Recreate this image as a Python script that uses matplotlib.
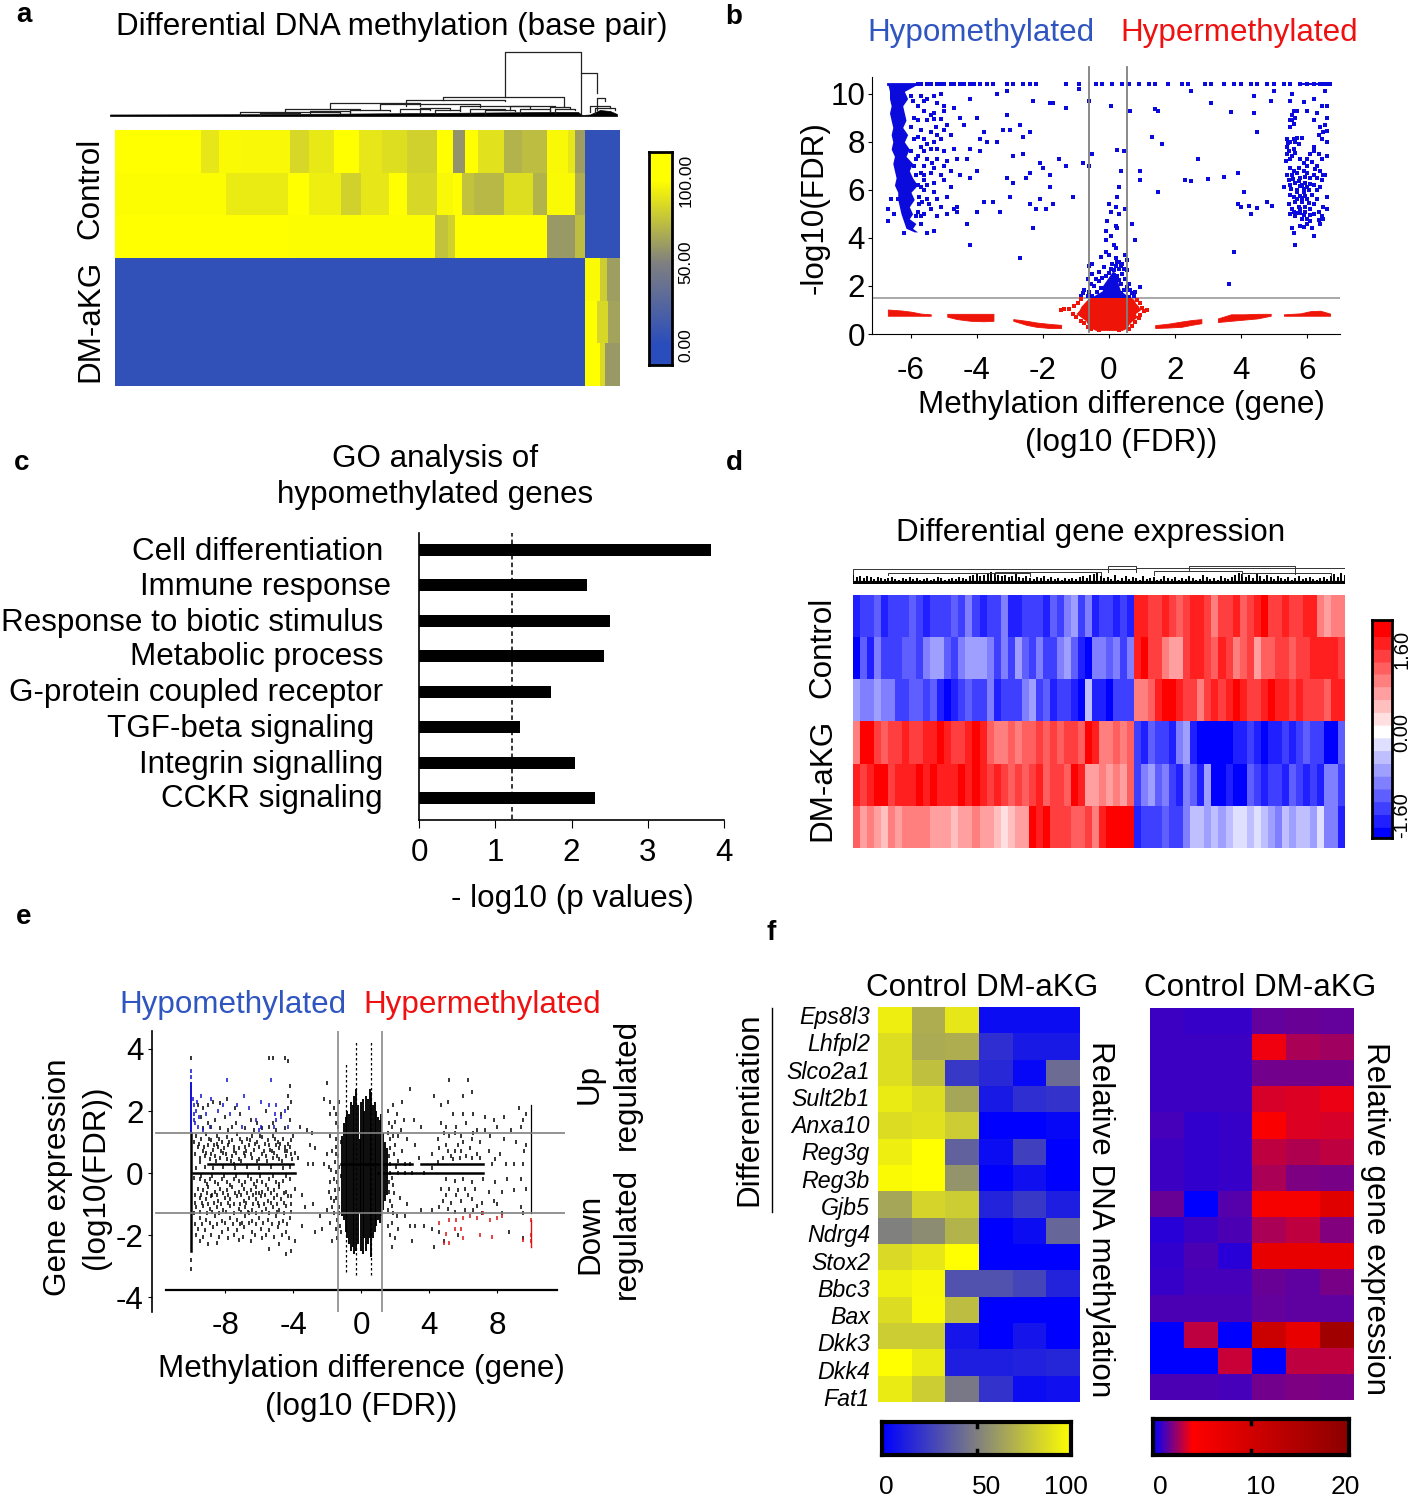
import matplotlib
matplotlib.use('AGG')
import matplotlib.pyplot as plt
import numpy as np
from matplotlib.colors import LinearSegmentedColormap

plt.rcParams['font.family'] = ['Liberation Sans', 'DejaVu Sans']
plt.rcParams['axes.unicode_minus'] = False

W, H = 1417, 1500
FONT = 22.6

# panel a: per row (breaks along the clustered sites, % methylation of each block)
a_edges = [
    [0, 86, 104, 127, 175, 194, 219, 244, 267, 292, 322, 338, 350, 363, 389, 407, 432, 453, 460, 470, 505],
    [0, 111, 173, 194, 226, 246, 274, 292, 322, 338, 347, 359, 389, 418, 432, 460, 470, 505],
    [0, 175, 320, 333, 340, 432, 460, 470, 505],
    [0, 470, 485, 492, 505],
    [0, 470, 482, 493, 505],
    [0, 470, 485, 490, 505],
]
a_values = [
    [100, 90, 98, 97, 84, 91, 100, 90, 87, 82, 100, 58, 100, 88, 70, 74, 97, 90, 62, 4],
    [99, 92, 100, 93, 82, 90, 100, 84, 97, 100, 76, 72, 87, 70, 98, 68, 4],
    [100, 99, 76, 82, 100, 60, 74, 4],
    [4, 98, 80, 62],
    [4, 100, 84, 64],
    [4, 100, 85, 60],
]
a_cbar_ticks = [0, 50, 100]
a_cbar_labels = ['0.00', '50.00', '100.00']
# dendrogram of panel a: x left, x right, height left, height right, height top
a_links = [
    (395, 471, 19, 43, 64), (471, 487, 2, 23, 43), (333, 454, 16, 10, 19), (296, 395, 10, 15, 16),
    (220, 310, 7, 10, 13), (270, 370, 7, 9, 12), (175, 250, 3, 6, 7), (350, 420, 6, 8, 10),
    (130, 230, 1, 3, 4), (400, 445, 6, 9, 10), (487, 495, 6, 15, 18), (440, 460, 4, 8, 9),
    (310, 340, 3, 6, 8), (360, 395, 3, 6, 7), (240, 280, 3, 5, 6), (290, 320, 4, 6, 7),
    (325, 350, 3, 5, 6), (375, 405, 3, 5, 6), (410, 440, 3, 5, 7), (445, 465, 3, 6, 7),
    (480, 500, 4, 8, 10), (485, 505, 3, 6, 8), (200, 240, 2, 4, 5), (150, 190, 1, 2, 3),
]
a_base_x = [0, 150, 250, 320, 380, 440, 468, 472, 480, 490, 500, 507]
a_base_top = [1.5, 1.8, 2.5, 3, 3.5, 4, 4, 1, 1.5, 6, 5, 2]

# panel b
b_ticks_x = [-6, -4, -2, 0, 2, 4, 6]
b_ticks_y = [0, 2, 4, 6, 8, 10]
b_top_x = [-5.8, -5.7, -5.5, -5.4, -5.2, -5.1, -5.0, -4.8, -4.7, -4.5, -4.4, -4.2, -4.1, -3.9, -3.7, -3.5,
           -3.1, -2.9, -2.6, -2.4, -2.2, -1.3, -0.9, -0.4, -0.2, 0.1, 0.4, 0.6, 0.9, 1.2, 1.4, 1.8, 2.2, 2.4,
           2.9, 3.1, 3.5, 3.8, 4.0, 4.3, 4.5, 4.8, 5.0, 5.3, 5.5, 5.8, 6.0, 6.2, 6.4, 6.5, 6.6, 6.7]
b_wedge_y = [4.25, 4.4, 4.6, 4.8, 5.0, 5.3, 5.6, 5.9, 6.2, 6.5, 6.8, 7.1, 7.4, 7.7, 8.0, 8.3, 8.6, 8.9, 9.2, 9.5, 9.8, 10.1, 10.4]
b_wedge_left = [-5.9, -6.15, -6.2, -6.25, -6.3, -6.35, -6.4, -6.4, -6.5, -6.45, -6.5, -6.55, -6.5, -6.6, -6.55, -6.6, -6.55, -6.6, -6.65, -6.6, -6.65, -6.65, -6.7]
b_wedge_right = [-5.8, -5.95, -5.85, -6.05, -5.95, -6.05, -5.9, -6.0, -5.8, -5.95, -6.05, -5.95, -6.15, -6.05, -6.2, -6.1, -6.25, -6.15, -6.2, -6.25, -6.1, -6.2, -5.8]
b_left_pts = [
    (-5.7, 9.9), (-5.5, 9.8), (-5.3, 9.9), (-5.1, 10.0), (-5.2, 9.6), (-5.0, 9.5), (-5.6, 9.3), (-5.3, 9.2),
    (-5.0, 9.3), (-4.7, 9.4), (-5.8, 8.9), (-5.5, 8.9), (-5.3, 8.95), (-5.1, 8.95), (-4.9, 8.7), (-5.7, 8.5),
    (-5.4, 8.4), (-5.0, 8.5), (-4.8, 8.3), (-5.6, 8.1), (-5.3, 8.0), (-5.1, 8.1), (-5.7, 7.8), (-5.4, 7.7),
    (-5.0, 7.6), (-4.7, 7.7), (-5.8, 7.4), (-5.5, 7.3), (-5.2, 7.3), (-4.9, 7.2), (-5.6, 7.0), (-5.3, 6.9),
    (-5.0, 7.0), (-5.7, 6.7), (-5.4, 6.7), (-5.1, 6.6), (-4.8, 6.8), (-5.6, 6.4), (-5.3, 6.3), (-5.0, 6.4),
    (-5.6, 6.0), (-5.3, 5.9), (-4.8, 6.1), (-5.5, 5.6), (-5.2, 5.6), (-4.9, 5.7), (-5.4, 5.2), (-5.1, 5.3),
    (-4.7, 5.2), (-5.2, 4.9), (-4.9, 5.0), (-4.6, 5.1), (-6.7, 5.2), (-6.7, 4.7), (-6.5, 5.0), (-6.2, 4.2),
    (-5.5, 4.2), (-5.3, 4.3), (-6.4, 5.6), (-6.6, 5.6), (-5.9, 9.0), (-5.8, 9.5), (-5.6, 7.6), (-5.8, 6.2),
    (-5.75, 5.4), (-5.8, 8.2), (-5.6, 5.0), (-5.7, 4.9), (-5.5, 7.9), (-5.4, 9.1), (-5.2, 8.3), (-5.2, 7.7),
    (-4.5, 9.0), (-4.4, 8.7), (-4.6, 7.3), (-4.5, 6.6), (-4.2, 9.8), (-4.0, 9.0), (-3.8, 8.4), (-3.9, 8.1),
    (-4.2, 7.7), (-4.3, 7.3), (-3.9, 7.6), (-3.7, 8.0), (-4.0, 6.8), (-4.2, 6.5), (-3.8, 5.5), (-3.5, 5.5),
    (-3.3, 5.1), (-4.3, 4.6), (-4.0, 5.1), (-4.6, 5.3), (-5.9, 8.1), (-6.0, 7.6), (-5.9, 7.0), (-5.85, 6.6),
    (-5.7, 6.1), (-5.75, 5.7), (-5.8, 5.1), (-5.7, 4.6), (-5.95, 9.7), (-6.0, 8.6), (-5.85, 7.3), (-5.6, 6.6),
    (-5.65, 5.5), (-5.85, 4.9), (-6.0, 9.9), (-5.6, 9.7), (-5.35, 7.1), (-5.5, 6.2), (-5.25, 8.6), (-5.45, 5.4),
]
b_sparse_pts = [
    (-3.4, 10.0), (-3.1, 10.1), (-3.0, 8.5), (-3.1, 9.1), (-3.4, 8.0), (-3.2, 8.5), (-2.9, 7.4), (-2.6, 7.5),
    (-2.7, 8.7), (-2.6, 8.2), (-3.1, 6.5), (-2.9, 6.3), (-3.0, 5.7), (-2.5, 6.5), (-2.4, 6.7), (-2.4, 5.4),
    (-2.1, 7.1), (-2.1, 5.6), (-2.0, 6.9), (-1.8, 6.6), (-1.8, 6.1), (-1.7, 5.4), (-1.5, 7.3), (-1.3, 7.0),
    (-1.1, 5.7), (-0.8, 7.1), (-0.6, 7.0), (-0.5, 7.5), (-1.7, 9.6), (-1.3, 9.4), (-1.9, 5.2), (-2.2, 5.2),
    (-2.3, 4.4), (-2.4, 8.4), (-2.7, 3.15), (-4.2, 3.7), (-2.3, 9.7), (-1.8, 9.6), (-0.6, 9.7), (-0.9, 10.2),
    (0.65, 9.3), (1.4, 9.35), (1.5, 9.3), (2.5, 10.1), (3.1, 9.6), (3.7, 9.25), (4.4, 9.2), (4.5, 8.4),
    (4.4, 9.9), (4.9, 9.7), (5.0, 10.1), (1.3, 8.2), (1.6, 7.9), (2.7, 7.3), (0.95, 6.8), (0.95, 6.4),
    (2.3, 6.4), (2.5, 6.35), (3.0, 6.45), (3.5, 6.55), (1.5, 5.9), (3.9, 6.7), (4.1, 5.9), (3.9, 5.4),
    (4.0, 5.3), (4.25, 5.35), (4.3, 5.0), (4.5, 5.25), (4.8, 5.5), (4.95, 5.35), (0.8, 3.9), (0.95, 1.95),
    (3.65, 2.1), (3.8, 3.4),
]
b_right_pts = [
    (5.4, 8.1), (5.5, 8.0), (5.6, 8.1), (5.7, 8.15), (5.75, 7.9), (5.85, 8.15), (5.4, 7.8), (5.45, 7.6),
    (5.55, 7.4), (5.6, 7.7), (5.8, 7.3), (5.9, 7.1), (6.1, 7.5), (6.2, 7.6), (6.0, 7.3), (6.3, 7.0),
    (5.35, 7.2), (5.5, 6.9), (5.6, 6.8), (5.4, 6.6), (5.45, 6.4), (5.55, 6.6), (5.7, 6.7), (5.8, 6.5),
    (5.9, 6.8), (6.0, 6.7), (6.1, 6.5), (6.25, 6.85), (6.4, 6.8), (6.5, 6.6), (5.3, 6.1), (5.5, 6.2),
    (5.65, 6.3), (5.7, 6.0), (5.85, 6.2), (5.95, 6.3), (6.05, 6.0), (6.2, 6.2), (6.3, 6.0), (6.45, 6.4),
    (5.5, 5.8), (5.6, 5.7), (5.7, 5.9), (5.8, 5.75), (5.9, 5.9), (6.0, 5.6), (6.15, 5.8), (6.3, 5.6),
    (5.45, 5.4), (5.55, 5.2), (5.65, 5.5), (5.75, 5.3), (5.85, 5.5), (5.95, 5.3), (6.1, 5.2), (6.2, 5.4),
    (6.35, 5.1), (6.5, 5.3), (5.5, 5.0), (5.65, 4.9), (5.8, 5.05), (5.9, 4.95), (6.0, 4.8), (6.1, 4.95),
    (6.2, 5.0), (6.35, 4.75), (5.55, 4.4), (5.6, 4.2), (5.8, 4.5), (5.9, 4.45), (6.0, 4.6), (6.15, 4.4),
    (6.2, 4.1), (5.65, 3.7), (5.5, 8.9), (5.55, 9.1), (5.65, 9.0), (5.7, 9.3), (5.6, 9.3), (5.5, 9.7),
    (5.55, 10.0), (5.9, 9.65), (6.0, 9.3), (6.2, 9.8), (6.3, 9.2), (6.45, 9.5), (6.55, 10.1), (6.6, 9.5),
    (6.2, 8.9), (6.4, 8.6), (6.55, 8.7), (6.6, 9.0), (6.35, 8.3), (6.5, 8.4), (6.6, 8.45), (6.45, 8.1),
    (6.6, 8.0), (6.2, 7.8), (6.35, 7.5), (6.6, 7.4), (6.45, 7.3), (6.55, 6.6), (6.4, 6.1), (6.6, 5.7),
    (6.5, 4.8), (6.6, 5.2), (6.45, 4.9), (6.4, 4.6), (5.42, 7.95), (5.38, 7.5), (5.48, 7.3), (5.65, 7.55),
    (5.75, 6.9), (5.58, 6.45), (5.52, 6.05), (5.78, 6.15), (5.9, 6.05), (5.7, 5.6), (5.85, 5.65), (5.95, 5.75),
    (6.05, 5.45), (6.0, 6.1), (6.1, 6.25), (5.8, 5.2), (5.6, 5.1), (5.7, 5.05), (5.95, 5.1), (6.1, 4.7),
    (5.85, 4.8), (5.95, 6.55), (5.75, 6.35), (6.2, 6.6), (6.3, 6.5), (6.0, 7.0), (6.15, 7.15), (5.65, 8.0),
    (5.55, 8.9), (5.5, 8.6), (5.6, 8.75),
]
b_center_pts = [
    (0.05, 9.5), (0.25, 7.65), (0.45, 7.6), (0.35, 6.8), (0.3, 6.1), (0.25, 5.7), (0.0, 5.4), (0.2, 5.3),
    (0.5, 5.2), (0.05, 5.1), (0.3, 5.0), (-0.05, 4.7), (0.2, 4.5), (0.7, 4.6), (0.25, 4.4), (-0.1, 4.3),
    (0.05, 4.1), (-0.1, 3.9), (0.15, 3.7), (0.2, 3.6), (-0.1, 3.4), (0.0, 3.3), (0.2, 3.15), (0.5, 3.3),
    (0.55, 3.1), (-0.25, 3.2), (0.3, 3.0), (0.4, 2.9), (0.2, 2.85), (-0.5, 2.9), (-0.6, 2.85), (0.3, 2.7),
    (0.05, 2.7), (-0.3, 2.6), (0.55, 2.65), (0.4, 2.5), (0.25, 2.4), (-0.1, 2.4), (-0.5, 2.5), (0.1, 2.25),
    (0.5, 2.3), (-0.3, 2.2), (-0.65, 2.3), (0.35, 2.1), (-0.05, 2.05), (-0.45, 2.0), (0.6, 2.1), (0.25, 1.95),
    (-0.25, 1.9), (-0.05, 1.85), (0.45, 1.85), (-0.6, 1.75), (-0.75, 1.85), (0.7, 1.7), (0.75, 1.6), (-0.85, 1.6),
    (0.1, 2.9), (0.25, 3.0), (0.35, 2.85), (0.15, 2.65), (0.45, 2.7), (-0.15, 2.8), (0.0, 2.55), (-0.4, 2.3),
    (-0.2, 2.35), (0.15, 2.45), (0.3, 2.25), (-0.55, 2.1), (0.55, 1.95), (-0.35, 1.75), (0.65, 1.85), (0.35, 1.7),
    (-0.65, 1.6), (-0.8, 1.7), (0.8, 1.75), (0.6, 1.55), (-0.5, 1.6),
]
b_core_y = [1.5, 1.6, 1.8, 2.0, 2.3, 2.6]
b_core_left = [-0.55, -0.45, -0.2, -0.2, -0.05, 0.1]
b_core_right = [0.7, 0.55, 0.35, 0.3, 0.25, 0.15]
b_blob_y = [0.15, 0.25, 0.4, 0.55, 0.7, 0.85, 1.0, 1.15, 1.3, 1.45, 1.52]
b_blob_left = [-0.4, -0.55, -0.65, -0.7, -0.85, -1.0, -0.9, -0.85, -0.75, -0.65, -0.55]
b_blob_right = [0.4, 0.55, 0.6, 0.7, 0.85, 0.8, 0.95, 0.9, 0.8, 0.75, 0.65]
b_blob_pts = [
    (-1.1, 0.85), (-1.2, 1.05), (-1.05, 1.15), (-0.95, 1.3), (-0.85, 1.45), (-1.0, 0.7), (-0.85, 0.55), (-0.75, 0.45),
    (-0.65, 0.3), (-0.55, 0.2), (1.0, 1.1), (1.05, 0.95), (0.95, 0.8), (0.9, 0.65), (0.8, 0.5), (0.7, 0.35),
    (0.6, 0.2), (0.95, 1.3), (0.85, 1.4), (-1.35, 1.05), (-1.45, 1.0), (1.15, 1.0), (-0.3, 0.15), (0.3, 0.15),
]
# red bands: x, lower edge, upper edge
b_bands = [
    ([-6.7, -6.3, -6.0, -5.7, -5.4], [0.76, 0.76, 0.76, 0.76, 0.76], [1.02, 0.98, 0.93, 0.85, 0.82]),
    ([-4.9, -4.6, -4.2, -3.8, -3.5], [0.72, 0.62, 0.55, 0.53, 0.55], [0.84, 0.84, 0.84, 0.84, 0.84]),
    ([-2.9, -2.5, -2.2, -1.8, -1.45], [0.55, 0.38, 0.3, 0.25, 0.25], [0.62, 0.55, 0.48, 0.42, 0.38]),
    ([1.4, 1.8, 2.2, 2.5, 2.8], [0.25, 0.27, 0.3, 0.38, 0.45], [0.37, 0.43, 0.52, 0.58, 0.62]),
    ([3.3, 3.7, 4.1, 4.5, 4.9], [0.5, 0.55, 0.6, 0.65, 0.76], [0.65, 0.82, 0.82, 0.84, 0.84]),
    ([5.3, 5.8, 6.1, 6.4, 6.7], [0.76, 0.76, 0.76, 0.76, 0.76], [0.82, 0.86, 0.95, 0.97, 0.85]),
]

# panel c
go_terms = ['Cell differentiation', 'Immune response', 'Response to biotic stimulus', 'Metabolic process',
            'G-protein coupled receptor', 'TGF-beta signaling', 'Integrin signalling', 'CCKR signaling']
go_right = [383, 391, 383, 383, 383, 374, 383, 383]
go_values = [3.83, 2.2, 2.51, 2.42, 1.73, 1.33, 2.05, 2.31]
go_threshold = 1.22

# panel d: z score x 10, one list per sample
d_rows = [
    [-14, -11, -12, -10, -13, -12, -11, -12, -10, -12, -13, -11, -12, -12, -10, -11, -8, -12, -13, -12,
     -11, -9, -14, -13, -12, -11, -12, -13, -10, -11, -8, -6, -11, -9, -13, -12, -11, -13, -12, -13,
     14, 13, 12, 11, 13, 12, 10, 12, 13, 14, 11, 8, 11, 12, 13, 10, 12, 14, 15, 11, 12, 13, 12, 11, 14, 13, 7, 6, 8, 7],
    [-15, -10, -13, -9, -11, -12, -11, -10, -10, -11, -9, -7, -6, -10, -11, -8, -7, -6, -7, -8,
     -11, -9, -12, -7, -10, -11, -9, -11, -12, -8, -7, -10, -14, -15, -9, -8, -10, -9, -11, -8,
     13, 15, 11, 12, 7, 5, 5, 11, 14, 13, 11, 9, 13, 12, 8, 10, 11, 6, 9, 10, 12, 11, 10, 12, 11, 13, 14, 14, 13, 12],
    [-6, -9, -8, -7, -8, -8, -11, -11, -10, -10, -11, -10, -14, -15, -13, -11, -10, -12, -12, -9,
     -13, -12, -11, -11, -8, -7, -11, -10, -13, -12, -11, -14, -15, -5, -13, -14, -16, -12, -11, -12,
     7, 8, 10, 13, 15, 16, 14, 12, 11, 7, 12, 13, 11, 14, 15, 13, 12, 11, 14, 15, 14, 13, 12, 13, 12, 11, 12, 10, 13, 14],
    [8, 15, 16, 11, 10, 11, 12, 13, 11, 12, 13, 14, 15, 13, 11, 12, 14, 15, 13, 10,
     7, 8, 9, 8, 10, 9, 11, 10, 11, 9, 12, 11, 10, 15, 14, 7, 8, 9, 7, 9,
     -11, -13, -10, -12, -11, -13, -9, -6, -14, -15, -16, -16, -15, -16, -13, -14, -12, -13, -15, -14, -13, -12, -13, -12, -10, -11, -11, -15, -16, -10],
    [14, 11, 13, 16, 16, 12, 13, 14, 13, 15, 14, 15, 13, 14, 13, 16, 14, 15, 13, 12,
     13, 11, 10, 12, 9, 11, 13, 10, 11, 12, 9, 15, 14, 6, 5, 7, 6, 8, 6, 9,
     -11, -9, -7, -10, -9, -12, -14, -9, -10, -13, -6, -15, -16, -14, -16, -15, -10, -12, -13, -11, -12, -13, -10, -11, -13, -12, -14, -9, -8, -11],
    [9, 6, 8, 5, 4, 7, 5, 8, 7, 8, 7, 6, 5, 6, 4, 5, 6, 7, 5, 6,
     3, 2, 3, 5, 6, 15, 14, 16, 12, 11, 12, 10, 9, 11, 8, 13, 15, 16, 16, 15,
     -13, -11, -12, -11, -10, -11, -12, -9, -5, -4, -6, -4, -7, -5, -2, -3, -4, -3, -5, -6, -8, -5, -6, -4, -5, -7, -3, -8, -9, -14],
]
d_dend_heights = [9, 7, 8, 6, 8, 7, 5, 7, 6, 5, 6, 7, 5, 4, 6, 5, 7, 5, 6, 4, 5, 6, 4, 5, 7, 6, 4, 5, 6, 5, 7, 6, 5, 8, 9, 10, 8, 9, 11, 12,
                  11, 9, 8, 9, 7, 8, 10, 7, 6, 8, 6, 5, 7, 6, 8, 5, 7, 5, 6, 4, 6, 5, 6, 5, 7, 8, 6, 9, 10, 11,
                  8, 6, 7, 5, 9, 4, 6, 8, 5, 7, 6, 4, 8, 5, 6, 7, 4, 5, 8, 6, 5, 7, 4, 6, 5, 8, 6, 4, 5, 9, 7, 5, 6, 4, 8, 6, 5, 7, 9, 11,
                  10, 7, 9, 6, 10, 8, 5, 9, 7, 5, 8, 6, 5, 7, 4, 6, 8, 5, 6, 7, 5, 4, 6, 7, 5, 8, 10, 7, 11, 9]
d_links = [(0, 80, 10, 12, 15), (72, 80, 12, 13, 18), (80, 139, 12, 11, 16), (95, 125, 14, 10, 18),
           (10, 50, 9, 8, 11), (40, 70, 8, 9, 12), (85, 110, 9, 8, 13), (110, 135, 9, 8, 11)]

# panel e
e_ticks_x = [-8, -4, 0, 4, 8]
e_ticks_y = [-4, -2, 0, 2, 4]
e_left_pts = [
    (-9.6, 2.2), (-9.3, 2.1), (-9.0, 2.2), (-8.7, 2.3), (-8.3, 2.25), (-7.9, 2.4), (-7.4, 2.1), (-9.4, 1.8), (-9.0, 1.6), (-8.6, 1.7),
    (-8.0, 1.8), (-7.6, 1.5), (-7.1, 1.9), (-6.5, 1.7), (-6.1, 1.6), (-5.6, 2.0), (-5.2, 1.6), (-4.7, 1.9), (-4.3, 2.1), (-4.1, 2.3),
    (-9.7, 1.2), (-9.4, 1.1), (-9.1, 1.25), (-8.8, 1.05), (-8.5, 1.2), (-8.2, 1.0), (-7.9, 1.15), (-7.6, 1.05), (-7.3, 1.25), (-7.0, 1.0),
    (-6.7, 1.1), (-6.4, 1.2), (-6.1, 1.0), (-5.8, 1.15), (-5.5, 1.05), (-5.2, 1.2), (-4.9, 1.0), (-4.6, 1.1), (-4.3, 0.95), (-4.0, 1.2),
    (-9.6, 0.85), (-9.3, 0.7), (-9.0, 0.9), (-8.7, 0.75), (-8.4, 0.85), (-8.1, 0.65), (-7.8, 0.9), (-7.5, 0.7), (-7.2, 0.8), (-6.9, 0.65),
    (-6.6, 0.9), (-6.3, 0.75), (-6.0, 0.85), (-5.7, 0.7), (-5.4, 0.9), (-5.1, 0.65), (-4.8, 0.8), (-4.5, 0.7), (-4.2, 0.85), (-3.9, 0.65),
    (-9.5, 0.5), (-9.2, 0.55), (-8.9, 0.45), (-8.6, 0.55), (-8.3, 0.5), (-7.9, 0.45), (-7.6, 0.55), (-7.2, 0.45), (-6.8, 0.55), (-6.4, 0.5),
    (-6.0, 0.45), (-5.6, 0.55), (-5.2, 0.5), (-4.8, 0.45), (-4.4, 0.55), (-4.1, 0.6), (-9.7, 0.15), (-9.2, 0.2), (-8.7, 0.15), (-8.1, 0.2),
    (-7.4, 0.15), (-6.7, 0.2), (-6.0, 0.15), (-5.3, 0.2), (-4.6, 0.15), (-4.2, 0.2), (-9.5, -0.2), (-9.2, -0.25), (-8.9, -0.2), (-8.6, -0.3), (-8.2, -0.2),
    (-7.9, -0.3), (-7.5, -0.2), (-7.2, -0.25), (-6.8, -0.3), (-6.5, -0.2), (-6.1, -0.25), (-5.8, -0.3), (-5.4, -0.2), (-5.0, -0.3), (-4.6, -0.25),
    (-4.2, -0.2), (-9.6, -0.5), (-9.3, -0.55), (-9.0, -0.45), (-8.6, -0.6), (-8.3, -0.5), (-7.9, -0.55), (-7.6, -0.45), (-7.2, -0.6), (-6.9, -0.5),
    (-6.5, -0.55), (-6.2, -0.45), (-5.8, -0.6), (-5.5, -0.5), (-5.1, -0.55), (-4.8, -0.45), (-4.4, -0.6), (-3.9, -0.5), (-9.5, -0.8), (-9.1, -0.85),
    (-8.8, -0.75), (-8.4, -0.9), (-8.0, -0.8), (-7.7, -0.85), (-7.3, -0.75), (-6.9, -0.9), (-6.6, -0.8), (-6.2, -0.85), (-5.9, -0.75), (-5.5, -0.9),
    (-5.1, -0.8), (-4.7, -0.85), (-4.3, -0.75), (-9.7, -1.1), (-9.3, -1.05), (-8.9, -1.15), (-8.5, -1.1), (-8.1, -1.2), (-7.7, -1.05), (-7.2, -1.15),
    (-6.8, -1.1), (-6.4, -1.2), (-6.0, -1.05), (-5.6, -1.15), (-5.2, -1.1), (-4.8, -1.2), (-4.4, -1.05), (-9.5, -1.45), (-9.1, -1.5), (-8.6, -1.4),
    (-8.2, -1.55), (-7.7, -1.45), (-7.3, -1.5), (-6.8, -1.4), (-6.4, -1.55), (-6.0, -1.45), (-5.5, -1.5), (-5.0, -1.4), (-4.6, -1.55), (-4.2, -1.45),
    (-9.6, -1.8), (-9.2, -1.85), (-8.7, -1.75), (-8.2, -1.9), (-7.8, -1.8), (-7.3, -1.85), (-6.9, -1.75), (-6.4, -1.9), (-5.9, -1.8), (-5.4, -1.85),
    (-4.9, -1.75), (-4.4, -1.9), (-9.5, -2.2), (-9.0, -2.3), (-8.5, -2.25), (-7.8, -2.1), (-7.2, -2.15), (-6.5, -2.2), (-5.8, -2.1), (-5.4, -2.45),
    (-4.8, -2.3), (-4.4, -2.6), (-4.1, -2.5), (-3.9, -2.2), (-7.0, -1.6), (-6.6, -1.3), (-6.2, -0.65), (-7.5, 0.3), (-8.5, 0.95), (-5.0, 0.9),
    (-5.4, 3.7), (-5.2, 3.7), (-4.5, 3.7), (-4.3, 3.6), (-4.2, 2.8), (-4.3, 2.5), (-10.0, 3.7), (-10.0, -3.1), (-10.0, -2.8),
]
e_left_more = [
    (-9.8, 1.0), (-9.55, 0.95), (-9.25, 0.85), (-8.95, 1.1), (-8.65, 0.9), (-8.35, 1.1), (-8.05, 0.8), (-7.75, 1.0), (-7.45, 0.85), (-7.15, 1.1),
    (-6.85, 0.85), (-6.55, 1.05), (-6.25, 0.95), (-5.95, 1.2), (-5.65, 0.95), (-5.35, 0.75), (-5.05, 1.1), (-4.75, 0.95), (-4.45, 0.85), (-4.15, 1.05),
    (-9.75, 0.6), (-9.45, 0.35), (-9.15, 0.65), (-8.85, 0.6), (-8.55, 0.4), (-8.25, 0.7), (-7.95, 0.6), (-7.65, 0.4), (-7.35, 0.65), (-7.05, 0.4),
    (-6.75, 0.7), (-6.45, 0.6), (-6.15, 0.4), (-5.85, 0.6), (-5.55, 0.4), (-5.25, 0.7), (-4.95, 0.55), (-4.65, 0.4), (-4.35, 0.7), (-4.05, 0.45),
    (-9.8, -0.15), (-9.4, -0.1), (-9.05, -0.35), (-8.75, -0.1), (-8.4, -0.35), (-8.05, -0.1), (-7.7, -0.4), (-7.35, -0.1), (-7.0, -0.4), (-6.65, -0.1),
    (-6.3, -0.35), (-5.95, -0.1), (-5.6, -0.4), (-5.2, -0.1), (-4.85, -0.35), (-4.4, -0.1), (-9.75, -0.7), (-9.4, -0.7), (-9.05, -0.65), (-8.75, -0.7),
    (-8.45, -0.7), (-8.15, -0.65), (-7.8, -0.7), (-7.4, -0.65), (-7.05, -0.7), (-6.7, -0.65), (-6.35, -0.7), (-6.0, -0.65), (-5.65, -0.7), (-5.3, -0.65),
    (-4.95, -0.7), (-4.55, -0.65), (-4.1, -0.75), (-9.75, -0.95), (-9.35, -0.95), (-9.0, -1.0), (-8.65, -0.95), (-8.25, -1.0), (-7.85, -0.95), (-7.5, -1.0),
    (-7.1, -1.0), (-6.75, -0.95), (-6.35, -1.0), (-6.05, -0.95), (-5.7, -1.0), (-5.3, -0.95), (-4.95, -1.0), (-4.55, -0.95), (-4.1, -1.0), (-9.8, -1.3),
    (-9.45, -1.25), (-9.05, -1.3), (-8.75, -1.25), (-8.35, -1.3), (-7.95, -1.25), (-7.5, -1.3), (-7.05, -1.25), (-6.65, -1.25), (-6.2, -1.3), (-5.8, -1.25),
    (-5.4, -1.3), (-4.95, -1.25), (-4.55, -1.3), (-4.1, -1.25), (-9.75, -1.65), (-9.35, -1.65), (-8.9, -1.6), (-8.45, -1.65), (-8.0, -1.6), (-7.55, -1.65),
    (-7.1, -1.65), (-6.6, -1.6), (-6.2, -1.65), (-5.75, -1.6), (-5.25, -1.65), (-4.8, -1.6), (-4.35, -1.65), (-9.7, -2.0), (-9.3, -2.05), (-8.8, -2.0),
    (-8.35, -2.05), (-7.5, -2.0), (-6.95, -2.05), (-6.25, -2.0), (-5.6, -2.0), (-5.1, -2.05), (-4.65, -2.0), (-4.25, -2.1), (-9.3, 1.45), (-8.85, 1.5),
    (-8.3, 1.45), (-7.85, 1.4), (-7.35, 1.6), (-6.85, 1.45), (-6.3, 1.4), (-5.8, 1.45), (-5.4, 1.5), (-5.0, 1.4), (-4.5, 1.45), (-4.2, 1.7),
]
e_up_pts = [
    (-10.0, 3.3), (-10.0, 3.1), (-9.9, 2.4), (-9.8, 2.2), (-9.7, 2.0), (-9.8, 1.7), (-9.6, 1.5), (-9.4, 2.5), (-9.1, 1.9), (-8.8, 2.4),
    (-8.4, 2.0), (-8.1, 2.2), (-7.7, 1.9), (-7.3, 2.2), (-6.9, 2.5), (-6.6, 2.1), (-6.2, 1.7), (-5.9, 1.5), (-5.4, 2.2), (-5.0, 2.2),
    (-4.7, 1.8), (-4.5, 2.0), (-4.3, 1.5), (-7.9, 3.0), (-5.3, 3.0), (-9.3, 1.4), (-8.9, 1.5), (-7.0, 1.5), (-5.9, 2.3), (-6.0, 1.4),
    (-9.85, 1.9), (-9.75, 1.6), (-9.65, 2.3), (-9.55, 1.8), (-5.0, 1.7), (-5.1, 1.5), (-5.05, 1.9),
]
e_mid_pts = [
    (-3.6, 1.5), (-3.2, 1.4), (-2.9, 1.3), (-3.0, 0.9), (-2.7, 0.8), (-3.7, 0.5), (-3.1, 0.3), (-2.8, 0.3), (-2.2, 0.3), (-2.0, 0.6),
    (-1.8, 1.9), (-1.6, 2.1), (-1.8, 1.2), (-1.5, 1.6), (-1.3, 2.3), (-1.2, 1.0), (-1.5, 0.6), (-1.9, 0.2), (-1.6, -0.2), (-1.3, -0.5),
    (-1.9, -0.6), (-1.6, -0.9), (-2.0, -1.2), (-1.3, -1.1), (-3.5, -0.7), (-3.3, -1.1), (-2.8, -1.0), (-2.4, -1.4), (-1.7, -1.1), (-1.4, -1.5),
    (-3.5, -1.7), (-2.7, -1.9), (-2.3, -1.8), (-1.7, -2.2), (-1.4, -2.1), (-2.2, 2.4), (-2.0, 2.9), (-1.8, 2.3), (-1.3, 0.2), (-1.2, -0.1),
    (1.6, 2.0), (1.9, 2.2), (2.1, 1.9), (2.4, 2.3), (2.9, 2.7), (2.5, 1.7), (3.1, 1.7), (3.5, 1.5), (2.7, 1.1), (3.2, 0.9),
    (1.7, 1.1), (2.0, 0.9), (2.4, 0.7), (3.4, 0.5), (1.7, 0.3), (2.2, 0.4), (2.6, 0.3), (2.9, 0.3), (1.7, 0.0), (2.2, 0.0),
    (2.6, 0.0), (3.0, 0.0), (1.9, -0.4), (2.3, -0.8), (2.7, -1.0), (1.7, -0.9), (1.9, -1.3), (2.6, -1.4), (2.2, -1.8), (2.9, -1.7),
    (1.6, -1.7), (3.2, -1.7), (2.0, -2.1), (3.0, -2.2), (1.8, -2.4), (4.3, -2.4), (3.5, -1.2), (3.7, 0.0),
    (-1.35, 1.5), (-1.5, 1.1), (-1.45, 0.85), (-1.7, 0.7), (-1.35, 0.55), (-1.55, 0.35), (-1.75, 0.1), (-1.45, 0.05), (-1.8, -0.3), (-1.4, -0.3),
    (-1.55, -0.55), (-1.75, -0.8), (-1.45, -0.8), (-1.6, -1.3), (-1.3, -1.3), (-1.8, -1.6), (-1.5, -1.8), (-1.25, -1.7), (-1.2, -1.9), (-1.5, 1.9),
    (1.65, 1.6), (1.85, 1.5), (1.6, 1.3), (1.9, 1.2), (1.7, 0.8), (1.95, 0.6), (1.65, 0.55), (2.05, 0.2), (1.85, -0.15), (1.65, -0.3),
    (1.95, -0.65), (1.65, -0.6), (1.8, -1.05), (1.6, -1.2), (1.85, -1.6), (1.7, -2.0), (2.1, -1.4), (2.35, 1.4), (2.2, 1.2), (2.0, 1.65),
]
e_right_pts = [
    (5.2, 3.0), (6.3, 3.0), (6.5, 2.6), (6.0, 2.5), (4.3, 2.5), (5.1, 2.3), (4.7, 2.2), (5.4, 1.9), (6.0, 1.9), (6.6, 1.9),
    (7.3, 1.8), (7.8, 1.7), (8.4, 1.8), (9.3, 2.1), (9.7, 1.9), (9.5, 1.7), (4.7, 1.6), (5.0, 1.5), (5.6, 1.5), (6.2, 1.6),
    (6.8, 1.4), (7.3, 1.4), (8.0, 1.5), (8.8, 1.4), (9.4, 1.5), (4.5, 1.1), (5.2, 1.2), (5.9, 1.2), (6.5, 1.1), (7.0, 1.0),
    (7.6, 1.2), (8.4, 1.1), (9.1, 1.0), (9.7, 0.9), (4.6, 0.8), (5.1, 0.7), (5.5, 0.7), (5.9, 0.7), (6.4, 0.8), (6.8, 0.6),
    (7.5, 0.7), (8.2, 0.6), (9.6, 0.7), (4.2, 0.6), (4.8, 0.5), (5.3, 0.55), (5.8, 0.5), (6.2, 0.55), (7.0, 0.5), (7.9, 0.45),
    (4.2, 0.15), (5.0, -0.2), (5.5, -0.25), (6.0, -0.2), (6.5, -0.3), (7.2, -0.2), (7.9, -0.3), (8.6, -0.2), (9.4, -0.2), (4.7, -0.5),
    (5.2, -0.5), (5.7, -0.55), (6.1, -0.5), (6.7, -0.5), (7.5, -0.6), (8.3, -0.6), (9.0, -0.55), (9.7, -0.5), (4.8, -0.9), (5.3, -0.95),
    (5.9, -0.9), (6.5, -0.85), (7.1, -0.95), (8.0, -1.0), (9.4, -1.1), (5.5, -1.25), (6.1, -1.2), (6.6, -1.2), (7.1, -1.3), (8.3, -1.3),
    (9.5, -1.3), (4.2, -1.2), (3.7, -1.7), (4.2, -1.8), (4.6, -1.9), (8.7, -1.9), (9.5, -2.1), (5.7, -2.0), (4.9, -2.2),
    (4.9, 1.3), (5.5, 1.3), (6.0, 1.0), (6.6, 1.3), (5.0, 0.9), (5.7, 0.9), (5.4, 0.45), (6.5, 0.5), (4.5, 0.35), (5.6, -0.7),
    (6.3, -0.7), (5.0, -0.7), (4.6, -1.1), (5.1, -1.15), (6.8, -1.05), (7.7, 0.3), (8.5, 0.3), (9.0, 0.3), (9.5, 0.3), (7.8, -0.9),
]
e_down_pts = [
    (4.6, -1.6), (5.2, -1.5), (5.6, -1.5), (6.0, -1.45), (6.4, -1.4), (6.8, -1.45), (7.2, -1.3), (7.6, -1.5), (8.0, -1.45), (8.3, -1.4),
    (5.0, -1.95), (4.9, -2.25), (5.2, -2.25), (6.0, -2.1), (7.0, -2.0), (7.7, -2.05), (9.5, -2.15), (10.0, -1.5), (10.0, -2.0), (10.0, -2.2), (5.5, -1.8), (5.9, -1.8),
]
e_core_x = [-1.1, -1.0, -0.9, -0.8, -0.7, -0.6, -0.5, -0.4, -0.3, -0.2, -0.05, 0.0, 0.1, 0.2, 0.3, 0.4, 0.5, 0.6, 0.7, 0.8, 0.9, 1.0, 1.1, 1.2, 1.3, 1.4, 1.5]
e_core_lo = [-1.4, -1.5, -1.9, -2.1, -2.3, -2.5, -2.4, -2.6, -2.5, -2.3, -1.3, -2.5, -2.6, -2.1, -2.5, -2.3, -2.1, -2.7, -2.1, -1.9, -1.7, -1.5, -1.6, -1.4, -1.2, -0.9, -0.7]
e_core_hi = [1.2, 1.6, 1.8, 2.0, 1.9, 2.3, 2.2, 2.5, 2.7, 2.2, 1.1, 2.3, 2.4, 2.0, 2.5, 2.4, 2.7, 2.6, 2.2, 2.3, 2.0, 1.8, 1.7, 1.9, 1.3, 1.0, 0.8]
e_core_far_x = [-0.9, -0.3, 0.6]
e_core_far_lo = [-3.2, -3.3, -3.3]
e_core_far_hi = [3.5, 4.3, 4.3]
# thick streaks: y, x start, x end
e_streaks = [(0.0, -9.9, -3.9), (0.3, -9.0, -4.0), (0.3, -1.2, 3.0), (0.0, 1.0, 3.2), (0.0, 3.3, 7.2), (0.3, 3.5, 7.2)]

# panel f
genes = ['Eps8l3', 'Lhfpl2', 'Slco2a1', 'Sult2b1', 'Anxa10', 'Reg3g', 'Reg3b', 'Gjb5', 'Ndrg4', 'Stox2', 'Bbc3', 'Bax', 'Dkk3', 'Dkk4', 'Fat1']
f_methyl = [
    [93, 68, 90, 5, 5, 5], [87, 67, 68, 18, 10, 10], [87, 75, 22, 16, 3, 42], [92, 87, 65, 10, 18, 20],
    [86, 88, 80, 0, 0, 3], [93, 100, 38, 5, 25, 0], [98, 100, 58, 0, 6, 0], [65, 83, 80, 14, 22, 12],
    [50, 55, 70, 0, 5, 40], [85, 90, 100, 0, 0, 0], [94, 97, 32, 32, 27, 14], [86, 98, 74, 0, 0, 0],
    [80, 80, 8, 0, 8, 0], [100, 92, 12, 12, 13, 15], [92, 80, 47, 20, 5, 6],
]
f_express = [
    [1.0, 0.9, 0.9, 1.6, 1.7, 1.6], [1.0, 1.0, 1.0, 3.8, 2.7, 2.5], [1.0, 1.0, 1.0, 1.8, 1.8, 1.8], [1.0, 1.0, 1.0, 3.4, 3.5, 3.7],
    [1.1, 0.8, 0.9, 4.5, 3.5, 3.4], [1.0, 0.8, 0.9, 3.0, 2.8, 3.0], [1.0, 0.8, 0.9, 2.7, 2.0, 1.9], [1.7, 0.0, 1.4, 5.0, 5.0, 8.0],
    [0.7, 1.0, 1.2, 2.7, 3.0, 2.1], [0.8, 1.2, 0.7, 7.0, 7.0, 7.0], [0.9, 1.1, 1.1, 1.7, 1.5, 1.9], [1.2, 1.2, 1.2, 1.6, 1.5, 1.5],
    [0.0, 3.0, 0.0, 11.0, 7.0, 17.0], [0.0, 0.0, 3.2, 0.0, 3.0, 3.0], [1.2, 1.2, 1.1, 1.8, 2.0, 1.9],
]

cmap_a = LinearSegmentedColormap.from_list('a', ['#2a4dbd', '#808080', '#ffff00'])
cmap_d = LinearSegmentedColormap.from_list('d', ['#0000ff', '#ffffff', '#ff0000'], N=17)
cmap_fm = LinearSegmentedColormap.from_list('fm', ['#0000ff', '#808080', '#ffff00'])
cmap_fe = LinearSegmentedColormap.from_list('fe', [(0, '#0000ff'), (0.1, '#800080'), (0.2, '#ff0000'), (0.5, '#d20000'), (1, '#8c0000')])


def px_axes(fig, left, top, right, bottom):
    '''axes placed from reference pixel edges'''
    return fig.add_axes([left / W, 1 - bottom / H, (right - left) / W, (bottom - top) / H])


def bare(ax):
    ax.set_xticks([])
    ax.set_yticks([])
    for s in ax.spines.values():
        s.set_visible(False)


def hbar_cbar(fig, edges, cmap, vmin, vmax):
    left, top, right, bottom = edges
    ax = px_axes(fig, left, top, right, bottom)
    ax.imshow(np.linspace(vmin, vmax, 256)[None, :], cmap=cmap, vmin=vmin, vmax=vmax, aspect='auto', extent=[vmin, vmax, 0, 1])
    ax.set_xticks([])
    ax.set_yticks([])
    for s in ax.spines.values():
        s.set_linewidth(3)
    mid = (vmin + vmax) / 2
    ax.plot([mid, mid], [0, 0.15], color='black', lw=2.5)
    ax.plot([mid, mid], [0.85, 1], color='black', lw=2.5)
    return ax


def vert_cbar(fig, edges, cmap, lo, hi, vmin, vmax):
    '''lo, hi: axis values at the bar ends; vmin, vmax: colour limits'''
    left, top, right, bottom = edges
    ax = px_axes(fig, left, top, right, bottom)
    ax.imshow(np.linspace(hi, lo, 256)[:, None], cmap=cmap, vmin=vmin, vmax=vmax, aspect='auto', extent=[0, 1, lo, hi])
    ax.set_xticks([])
    ax.set_yticks([])
    for s in ax.spines.values():
        s.set_linewidth(2)
    return ax


def pts(ax, pairs, color, marker='s', size=6):
    xy = np.array(pairs)
    if marker == '|':
        ax.scatter(xy[:, 0], xy[:, 1], s=size, c=color, marker='|', linewidths=1.1, zorder=3)
    else:
        ax.scatter(xy[:, 0], xy[:, 1], s=size, c=color, marker='s', linewidths=0, zorder=3)


def plot_a(fig):
    ax = px_axes(fig, 115, 130, 620, 386)
    for i, (edges, vals) in enumerate(zip(a_edges, a_values)):
        ax.pcolormesh(edges, [5 - i, 6 - i], [vals], cmap=cmap_a, vmin=0, vmax=100)
    ax.set_xlim(0, 505)
    ax.set_ylim(0, 6)
    bare(ax)
    den = px_axes(fig, 110, 50, 617, 116)
    den.fill_between(a_base_x, 0, a_base_top, color='black', lw=0.5)
    for x0, x1, hl, hr, ht in a_links:
        den.plot([x0, x0, x1, x1], [hl, ht, ht, hr], color='#222222', lw=0.9)
    den.set_xlim(0, 507)
    den.set_ylim(0, 66)
    den.axis('off')
    cb = vert_cbar(fig, (649, 152, 672, 365), cmap_a, -12, 117, 0, 100)
    for t, lab in zip(a_cbar_ticks, a_cbar_labels):
        cb.text(1.6, t, lab, rotation=90, va='center', ha='center', fontsize=12.5, transform=cb.get_yaxis_transform())


def plot_b(fig):
    blue, red = '#0a0adc', '#ee1408'
    ax = px_axes(fig, 872, 77, 1340, 334)
    ax.set_xlim(-7.18, 7.0)
    ax.set_ylim(0, 10.7)
    ax.fill_betweenx(b_wedge_y, b_wedge_left, b_wedge_right, color=blue, lw=0, zorder=3)
    ax.scatter(b_top_x, [10.4] * len(b_top_x), s=6, c=blue, marker='s', linewidths=0)
    ax.plot([-6.7, -5.7], [10.4, 10.4], color=blue, lw=2)
    ax.plot([5.8, 6.7], [10.4, 10.4], color=blue, lw=1.5)
    for p in (b_left_pts, b_sparse_pts, b_right_pts, b_center_pts):
        pts(ax, p, blue)
    ax.fill_betweenx(b_core_y, b_core_left, b_core_right, color=blue, lw=0, zorder=3)
    ax.fill_betweenx(b_blob_y, b_blob_left, b_blob_right, color=red, lw=0, zorder=4)
    pts(ax, b_blob_pts, red)
    for x, lo, hi in b_bands:
        ax.fill_between(x, lo, hi, color=red, lw=0.6, zorder=4)
    ax.axhline(1.5, color='#999999', lw=1.2, zorder=2)
    for v in (-0.6, 0.55):
        ax.plot([v, v], [0.1, 11.1], color='#808080', lw=1.3, clip_on=False, zorder=5)
    ax.spines[['top', 'right']].set_visible(False)
    ax.set_xticks(b_ticks_x)
    ax.set_yticks(b_ticks_y)
    ax.tick_params(labelsize=FONT, length=3, pad=13)
    ax.tick_params(axis='y', pad=2)


def plot_c(fig):
    ax = px_axes(fig, 419, 533, 724, 820)
    y = np.arange(len(go_values))
    ax.barh(y, go_values, height=0.34, color='black')
    ax.plot([go_threshold, go_threshold], [-0.5, 7.6], color='black', lw=1.1, ls=(0, (3, 2)))
    ax.set_xlim(0, 4)
    ax.set_ylim(7.62, -0.48)
    ax.spines[['top', 'right']].set_visible(False)
    ax.spines['left'].set_linewidth(1.2)
    ax.spines['bottom'].set_linewidth(1.2)
    ax.set_xticks([0, 1, 2, 3, 4])
    ax.set_yticks([])
    ax.tick_params(labelsize=FONT, length=6, pad=7)


def plot_d(fig):
    ax = px_axes(fig, 853, 595, 1345, 848)
    ax.imshow(np.array(d_rows) / 10.0, cmap=cmap_d, vmin=-1.7, vmax=1.7, aspect='auto', interpolation='nearest')
    bare(ax)
    den = px_axes(fig, 853, 565, 1345, 584)
    den.vlines(range(len(d_dend_heights)), 0, d_dend_heights, color='black', lw=1.4)
    den.axhline(1, color='black', lw=3)
    for x0, x1, hl, hr, ht in d_links:
        den.plot([x0, x0, x1, x1], [hl, ht, ht, hr], color='#333333', lw=0.7)
    den.set_xlim(0, 139)
    den.set_ylim(0, 19)
    den.axis('off')
    cb = vert_cbar(fig, (1372, 620, 1392, 838), cmap_d, -2.05, 2.17, -2.1, 2.1)
    for t, lab in zip([-1.6, 0, 1.6], ['-1.60', '0.00', '1.60']):
        cb.text(1.5, t, lab, rotation=90, va='center', ha='center', fontsize=14.5, transform=cb.get_yaxis_transform())


def plot_e(fig):
    ax = px_axes(fig, 152, 1031, 565, 1312)
    ax.set_xlim(-12.3, 12.0)
    ax.set_ylim(-4.48, 4.58)
    for p in (e_left_pts, e_left_more, e_mid_pts, e_right_pts):
        pts(ax, p, 'black', marker='|', size=10)
    pts(ax, e_up_pts, '#1010d0', marker='|', size=10)
    pts(ax, e_down_pts, '#dd1111', marker='|', size=10)
    ax.vlines(e_core_x, e_core_lo, e_core_hi, color='black', lw=1.35, zorder=3)
    ax.vlines(e_core_far_x, e_core_far_lo, e_core_far_hi, color='black', lw=0.9, ls=(0, (2, 2)), zorder=3)
    for yv, x0, x1 in e_streaks:
        ax.plot([x0, x1], [yv, yv], color='black', lw=1.8, zorder=3)
    ax.plot([-10, -10], [-2.5, 1.3], color='black', lw=1.8, zorder=4)
    ax.plot([-10, -10], [1.3, 2.9], color='#1010d0', lw=1.4, zorder=4)
    ax.plot([10, 10], [-1.3, 2.2], color='black', lw=0.9, zorder=4)
    ax.plot([10, 10], [-2.4, -1.5], color='#dd1111', lw=1.0, zorder=4)
    ax.axhline(1.3, xmin=0.01, color='#808080', lw=1.2, zorder=5)
    ax.axhline(-1.3, xmin=0.01, color='#808080', lw=1.2, zorder=5)
    for v in (-1.35, 1.25):
        ax.axvline(v, color='#8a8a8a', lw=1.2, zorder=5)
    ax.spines[['top', 'right']].set_visible(False)
    ax.spines['left'].set_linewidth(1.2)
    ax.spines['bottom'].set_position(('data', -3.77))
    ax.spines['bottom'].set_bounds(-11.5, 11.5)
    ax.spines['bottom'].set_linewidth(1.6)
    ax.set_xticks(e_ticks_x)
    ax.set_yticks(e_ticks_y)
    ax.tick_params(labelsize=FONT, length=2, pad=13)
    ax.tick_params(axis='y', length=3, pad=3)


def plot_f(fig):
    ax = px_axes(fig, 878, 1007, 1080, 1402)
    ax.imshow(f_methyl, cmap=cmap_fm, vmin=0, vmax=100, aspect='auto', interpolation='nearest')
    bare(ax)
    ax2 = px_axes(fig, 1150, 1008, 1354, 1400)
    ax2.imshow(f_express, cmap=cmap_fe, vmin=0, vmax=20, aspect='auto', interpolation='nearest')
    bare(ax2)
    hbar_cbar(fig, (882, 1422, 1071, 1455), cmap_fm, 0, 100)
    hbar_cbar(fig, (1153, 1419, 1349, 1455), cmap_fe, 0, 20)


def add_text(fig):
    tx = fig.add_axes([0, 0, 1, 1], facecolor='none')
    tx.set_xlim(0, W)
    tx.set_ylim(H, 0)
    tx.axis('off')
    hypo, hyper = '#2f55c0', '#ee1111'

    def t(x, y, s, **kw):
        kw.setdefault('fontsize', FONT)
        kw.setdefault('ha', 'center')
        kw.setdefault('va', 'center')
        tx.text(x, y + 1.5, s, **kw)

    for lab, x, y in [('a', 24, 14), ('b', 734, 15), ('c', 22, 462), ('d', 734, 462), ('e', 24, 915), ('f', 771, 932)]:
        t(x, y, lab, fontweight='bold', fontsize=20)
    t(392, 25, 'Differential DNA methylation (base pair)')
    t(90, 187, 'Control', rotation=90)
    t(90, 319, 'DM-aKG', rotation=90)
    t(981, 31, 'Hypomethylated', color=hypo)
    t(1239, 31, 'Hypermethylated', color=hyper)
    t(815, 206, '-log10(FDR)', rotation=90)
    t(1121, 403, 'Methylation difference (gene)')
    t(1121, 441, '(log10 (FDR))')
    t(435, 457, 'GO analysis of')
    t(435, 494, 'hypomethylated genes')
    for term, right, yc in zip(go_terms, go_right, [550, 586, 621, 656, 692, 727, 763, 798]):
        t(right, yc, term, ha='right')
    t(572, 897, '- log10 (p values)')
    t(1091, 531, 'Differential gene expression')
    t(822, 646, 'Control', rotation=90)
    t(822, 778, 'DM-aKG', rotation=90)
    t(233, 1003, 'Hypomethylated', color=hypo)
    t(482, 1003, 'Hypermethylated', color=hyper)
    t(58, 1176, 'Gene expression', rotation=90)
    t(96, 1176, '(log10(FDR))', rotation=90)
    t(590, 1082, 'Up', rotation=90)
    t(627, 1083, 'regulated', rotation=90)
    t(590, 1232, 'Down', rotation=90)
    t(627, 1232, 'regulated', rotation=90)
    t(361, 1367, 'Methylation difference (gene)')
    t(361, 1405, '(log10 (FDR))')
    t(982, 986, 'Control DM-aKG')
    t(1260, 986, 'Control DM-aKG')
    t(749, 1108, 'Differentiation', rotation=90)
    tx.plot([772, 772], [1008, 1212], color='black', lw=1)
    t(1100, 1218, 'Relative DNA methylation', rotation=270)
    t(1375, 1217, 'Relative gene expression', rotation=270)
    for g, yc in zip(genes, np.linspace(1016, 1398, len(genes))):
        t(870, yc, g, ha='right', style='italic', fontsize=16.7)
    for x, s in [(886, '0'), (987, '50'), (1066, '100'), (1160, '0'), (1261, '10'), (1345, '20')]:
        t(x, 1486, s, fontsize=19)


fig = plt.figure(figsize=(W / 100, H / 100), dpi=100)
plot_a(fig)
plot_b(fig)
plot_c(fig)
plot_d(fig)
plot_e(fig)
plot_f(fig)
add_text(fig)
fig.savefig('out.png', dpi=100)
plt.close(fig)
